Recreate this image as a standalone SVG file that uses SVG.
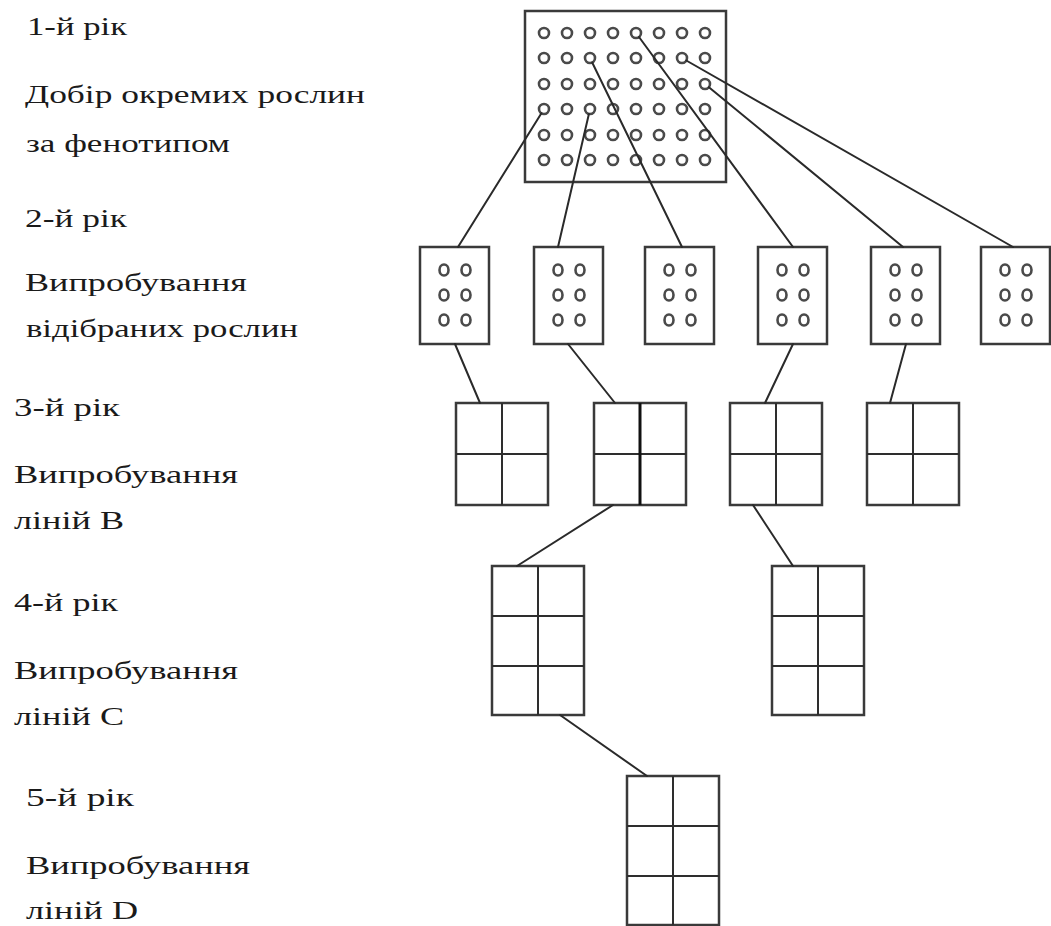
<svg xmlns="http://www.w3.org/2000/svg" width="1051" height="926" viewBox="0 0 1051 926">
<style>
.bg{fill:#ffffff}
.box{fill:#ffffff;stroke:#3a3a3a;stroke-width:2.5}
.big{fill:none;stroke:#3a3a3a;stroke-width:2.5}
.grid{stroke:#2e2e2e;stroke-width:2;fill:none}
.dot{fill:#ffffff;stroke:#4a4a4a;stroke-width:2.6}
.con{stroke:#2a2a2a;stroke-width:2;fill:none;stroke-linecap:round}
.t{font-family:"Liberation Serif","Times New Roman",serif;font-size:26px;fill:#1a1a1a}
</style>
<rect class="bg" x="0" y="0" width="1051" height="926"/>

<g id="labels">
<text class="t" x="27" y="35" textLength="100" lengthAdjust="spacingAndGlyphs">1-й рік</text>
<text class="t" x="25" y="103" textLength="340" lengthAdjust="spacingAndGlyphs">Добір окремих рослин</text>
<text class="t" x="26" y="152" textLength="204" lengthAdjust="spacingAndGlyphs">за фенотипом</text>
<text class="t" x="25" y="227" textLength="102" lengthAdjust="spacingAndGlyphs">2-й рік</text>
<text class="t" x="25" y="291" textLength="222" lengthAdjust="spacingAndGlyphs">Випробування</text>
<text class="t" x="26" y="337" textLength="272" lengthAdjust="spacingAndGlyphs">відібраних рослин</text>
<text class="t" x="14" y="416" textLength="106" lengthAdjust="spacingAndGlyphs">3-й рік</text>
<text class="t" x="14" y="483" textLength="224" lengthAdjust="spacingAndGlyphs">Випробування</text>
<text class="t" x="14" y="529" textLength="110" lengthAdjust="spacingAndGlyphs">ліній В</text>
<text class="t" x="14" y="611" textLength="104" lengthAdjust="spacingAndGlyphs">4-й рік</text>
<text class="t" x="14" y="679" textLength="224" lengthAdjust="spacingAndGlyphs">Випробування</text>
<text class="t" x="14" y="725" textLength="110" lengthAdjust="spacingAndGlyphs">ліній С</text>
<text class="t" x="26" y="806" textLength="108" lengthAdjust="spacingAndGlyphs">5-й рік</text>
<text class="t" x="26" y="874" textLength="224" lengthAdjust="spacingAndGlyphs">Випробування</text>
<text class="t" x="26" y="919" textLength="112" lengthAdjust="spacingAndGlyphs">ліній D</text>
</g>

<g id="n1">
<rect class="big" x="525" y="11" width="201" height="171"/>
<g>
<circle class="dot" cx="544" cy="33" r="5"/><circle class="dot" cx="567" cy="33" r="5"/><circle class="dot" cx="590" cy="33" r="5"/><circle class="dot" cx="613" cy="33" r="5"/><circle class="dot" cx="636" cy="33" r="5"/><circle class="dot" cx="659" cy="33" r="5"/><circle class="dot" cx="682" cy="33" r="5"/><circle class="dot" cx="705" cy="33" r="5"/>
<circle class="dot" cx="544" cy="58" r="5"/><circle class="dot" cx="567" cy="58" r="5"/><circle class="dot" cx="590" cy="58" r="5"/><circle class="dot" cx="613" cy="58" r="5"/><circle class="dot" cx="636" cy="58" r="5"/><circle class="dot" cx="659" cy="58" r="5"/><circle class="dot" cx="682" cy="58" r="5"/><circle class="dot" cx="705" cy="58" r="5"/>
<circle class="dot" cx="544" cy="84" r="5"/><circle class="dot" cx="567" cy="84" r="5"/><circle class="dot" cx="590" cy="84" r="5"/><circle class="dot" cx="613" cy="84" r="5"/><circle class="dot" cx="636" cy="84" r="5"/><circle class="dot" cx="659" cy="84" r="5"/><circle class="dot" cx="682" cy="84" r="5"/><circle class="dot" cx="705" cy="84" r="5"/>
<circle class="dot" cx="544" cy="109" r="5"/><circle class="dot" cx="567" cy="109" r="5"/><circle class="dot" cx="590" cy="109" r="5"/><circle class="dot" cx="613" cy="109" r="5"/><circle class="dot" cx="636" cy="109" r="5"/><circle class="dot" cx="659" cy="109" r="5"/><circle class="dot" cx="682" cy="109" r="5"/><circle class="dot" cx="705" cy="109" r="5"/>
<circle class="dot" cx="544" cy="135" r="5"/><circle class="dot" cx="567" cy="135" r="5"/><circle class="dot" cx="590" cy="135" r="5"/><circle class="dot" cx="613" cy="135" r="5"/><circle class="dot" cx="636" cy="135" r="5"/><circle class="dot" cx="659" cy="135" r="5"/><circle class="dot" cx="682" cy="135" r="5"/><circle class="dot" cx="705" cy="135" r="5"/>
<circle class="dot" cx="544" cy="160" r="5"/><circle class="dot" cx="567" cy="160" r="5"/><circle class="dot" cx="590" cy="160" r="5"/><circle class="dot" cx="613" cy="160" r="5"/><circle class="dot" cx="636" cy="160" r="5"/><circle class="dot" cx="659" cy="160" r="5"/><circle class="dot" cx="682" cy="160" r="5"/><circle class="dot" cx="705" cy="160" r="5"/>
</g>
</g>

<defs>
<g id="six">
<rect class="box" x="0" y="0" width="69" height="97"/>
<ellipse class="dot" cx="24" cy="23" rx="4.5" ry="5.5"/><ellipse class="dot" cx="46" cy="23" rx="4.5" ry="5.5"/>
<ellipse class="dot" cx="24" cy="48" rx="4.5" ry="5.5"/><ellipse class="dot" cx="46" cy="48" rx="4.5" ry="5.5"/>
<ellipse class="dot" cx="24" cy="73" rx="4.5" ry="5.5"/><ellipse class="dot" cx="46" cy="73" rx="4.5" ry="5.5"/>
</g>
<g id="four">
<rect class="box" x="0" y="0" width="92" height="102"/>
<path class="grid" d="M46 0V102M0 51H92"/>
</g>
<g id="sixg">
<rect class="box" x="0" y="0" width="92" height="149"/>
<path class="grid" d="M46 0V149M0 50H92M0 100H92"/>
</g>
</defs>

<g id="n2a"><use href="#six" x="420" y="247"/></g>
<g id="n2b"><use href="#six" x="534" y="247"/></g>
<g id="n2c"><use href="#six" x="645" y="247"/></g>
<g id="n2d"><use href="#six" x="758" y="247"/></g>
<g id="n2e"><use href="#six" x="871" y="247"/></g>
<g id="n2f"><use href="#six" x="981" y="247"/></g>

<g id="n3a"><use href="#four" x="456" y="403"/></g>
<g id="n3b"><use href="#four" x="594" y="403"/><line x1="640" y1="403" x2="640" y2="505" stroke="#111" stroke-width="3"/></g>
<g id="n3c"><use href="#four" x="730" y="403"/></g>
<g id="n3d"><use href="#four" x="867" y="403"/></g>

<g id="n4a"><use href="#sixg" x="492" y="566"/></g>
<g id="n4b"><use href="#sixg" x="772" y="566"/></g>

<g id="n5a"><use href="#sixg" x="627" y="776"/></g>

<g id="connectors">
<line class="con" x1="541.4" y1="113.2" x2="458" y2="247"/>
<line class="con" x1="588.9" y1="113.9" x2="558" y2="247"/>
<line class="con" x1="592.2" y1="62.5" x2="682" y2="247"/>
<line class="con" x1="639" y1="37" x2="793" y2="247"/>
<line class="con" x1="708.9" y1="87.2" x2="903" y2="247"/>
<line class="con" x1="686.3" y1="60.5" x2="1013" y2="247"/>
<line class="con" x1="455" y1="344" x2="480" y2="403"/>
<line class="con" x1="568" y1="344" x2="615" y2="403"/>
<line class="con" x1="793" y1="344" x2="765" y2="403"/>
<line class="con" x1="906" y1="344" x2="890" y2="403"/>
<line class="con" x1="613" y1="505" x2="517" y2="566"/>
<line class="con" x1="753" y1="505" x2="793" y2="566"/>
<line class="con" x1="560" y1="715" x2="647" y2="776"/>
</g>
</svg>
